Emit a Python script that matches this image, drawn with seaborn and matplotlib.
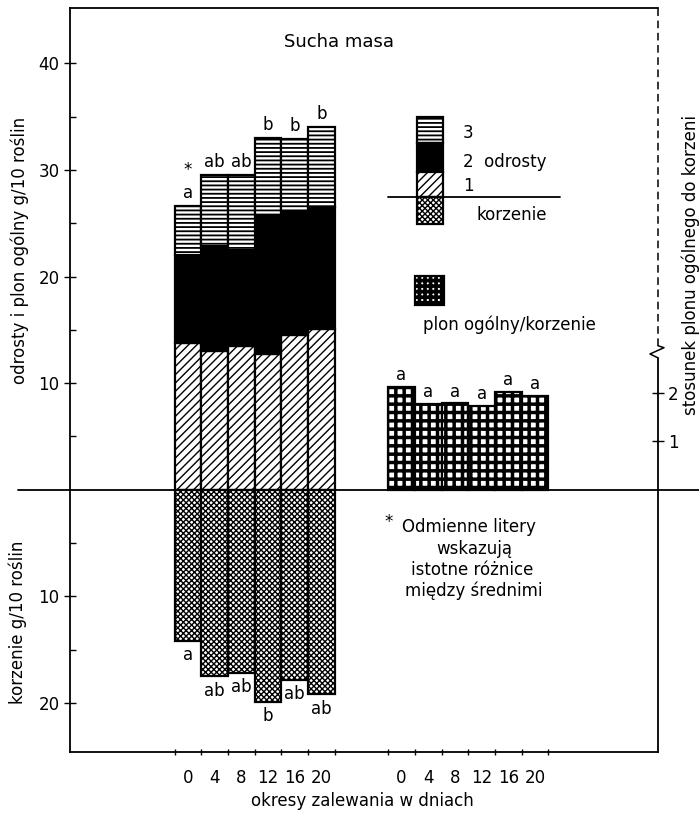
import numpy as np
import pandas as pd
import matplotlib
matplotlib.use('Agg')
import matplotlib.pyplot as plt
import matplotlib.transforms as mtransforms
from matplotlib.patches import Rectangle
import seaborn as sns

# --- Data ---
days = [0, 4, 8, 12, 16, 20]
cut1 = [13.8, 13.0, 13.5, 12.7, 14.5, 15.1]   # odrost 1
cut2 = [8.2, 9.9, 9.0, 13.1, 11.7, 11.4]      # odrost 2
cut3 = [4.6, 6.6, 7.0, 7.2, 6.7, 7.5]         # odrost 3
roots = [14.2, 17.5, 17.2, 19.9, 17.8, 19.2]  # korzenie
ratio = [2.12, 1.77, 1.78, 1.73, 2.02, 1.93]  # plon ogolny / korzenie
shoot_letters = ['a', 'ab', 'ab', 'b', 'b', 'b']
root_letters = ['a', 'ab', 'ab', 'b', 'ab', 'ab']
ratio_letters = ['a', 'a', 'a', 'a', 'a', 'a']

left_ticks = [10, 20, 30, 40]
root_ticks = [10, 20]
ratio_ticks = [1, 2]

# --- Table for seaborn ---
df = pd.DataFrame({'day': days, 'cut1': cut1, 'cut2': cut2, 'cut3': cut3,
                   'root': roots, 'ratio': ratio})
df['pos'] = np.arange(len(df))
df['pos2'] = df['pos'] + 8
df['neg_root'] = -df['root']
df['b2'] = df['cut1']
df['b3'] = df['cut1'] + df['cut2']
df['total'] = df['b3'] + df['cut3']

W, H = 699, 814
sns.set_style('ticks')
plt.rcParams['font.family'] = ['DejaVu Sans']
plt.rcParams['font.size'] = 12
for k in ['text.color', 'axes.labelcolor', 'xtick.color', 'ytick.color', 'axes.edgecolor']:
    plt.rcParams[k] = 'black'

fig = plt.figure(figsize=(W / 100, H / 100), dpi=100)
ax = fig.add_axes([70 / W, 1 - 752 / H, 588 / W, 744 / H])
ax2 = ax.twinx()


def px(x, y):
    return x / W, 1 - y / H


def set_hlw(patches, lw):
    for p in patches:
        if hasattr(p, 'set_hatch_linewidth'):
            p.set_hatch_linewidth(lw)


def bars(axis, x, y, bottom=None, hatch=None, face='white', hlw=1.0):
    plt.rcParams['hatch.linewidth'] = hlw
    n0 = len(axis.patches)
    sns.barplot(data=df, x=x, y=y, native_scale=True, width=1, color=face,
                saturation=1, edgecolor='black', linewidth=1.6, hatch=hatch,
                bottom=bottom, errorbar=None, ax=axis)
    set_hlw(axis.patches[n0:], hlw)


# shoots (stacked) and roots (downwards)
bars(ax, 'pos', 'cut1', hatch='////', hlw=1.0)
bars(ax, 'pos', 'cut2', bottom=df['b2'], face='black', hlw=1.0)
bars(ax, 'pos', 'cut3', bottom=df['b3'], hatch='----', hlw=1.3)
bars(ax, 'pos', 'neg_root', hatch='xxxxxx', hlw=1.0)
# ratio bars on the right scale
bars(ax2, 'pos2', 'ratio', hatch='++', hlw=2.5)

for i, r in df.iterrows():
    ax.text(r['pos'], r['total'] + 0.4, shoot_letters[i], ha='center', va='bottom', fontsize=12)
    ax.text(r['pos'], -r['root'] - 0.5, root_letters[i], ha='center', va='top', fontsize=12)
    ax2.text(r['pos2'], r['ratio'] + 0.06, ratio_letters[i], ha='center', va='bottom', fontsize=12)
ax.text(df['pos'][0], df['total'][0] + 2.6, '*', ha='center', va='bottom', fontsize=12)

# --- Axes ---
ax.set_xlim(-4.42, 17.61)
ax.set_ylim(-24.6, 45.2)
r_lo = 24.6 / 69.8 * 15.34
ax2.set_ylim(-r_lo, 15.34 - r_lo)
ax.set_xlabel('')
ax.set_ylabel('')
ax2.set_xlabel('')
ax2.set_ylabel('')

ax.set_yticks([-t for t in root_ticks] + left_ticks)
ax.set_yticklabels([str(t) for t in root_ticks] + [str(t) for t in left_ticks])
ax.set_yticks([-15, -5, 5, 15, 25, 35], minor=True)
ax.tick_params(axis='y', which='major', direction='inout', length=8, width=1, labelsize=12)
ax.tick_params(axis='y', which='minor', direction='in', length=4, width=1)

ax.set_xticks(list(df['pos']) + list(df['pos2']))
ax.set_xticklabels([str(d) for d in days] * 2)
ax.set_xticks(list(np.arange(-0.5, 6, 1)) + list(np.arange(7.5, 14, 1)), minor=True)
ax.tick_params(axis='x', which='major', length=0, pad=12, labelsize=12)
ax.tick_params(axis='x', which='minor', direction='inout', length=5, width=1)

ax2.set_yticks(ratio_ticks)
ax2.set_yticklabels([str(t) for t in ratio_ticks])
ax2.tick_params(axis='y', direction='inout', length=8, width=1, labelsize=12, pad=3)

for s in ['left', 'top', 'bottom']:
    ax.spines[s].set_linewidth(1.3)
ax.spines['right'].set_visible(False)
for s in ax2.spines.values():
    s.set_visible(False)

# zero line running across the whole frame
tz = mtransforms.blended_transform_factory(ax.transAxes, ax.transData)
ax.plot([-0.088, 1.07], [0, 0], transform=tz, clip_on=False, color='black', lw=1.3)

# right axis: solid below the break, dashed above
tr = mtransforms.blended_transform_factory(ax2.transAxes, ax2.transData)
d = 1 / 588
ax2.plot([1, 1], [-r_lo, 2.72], transform=tr, clip_on=False, color='black', lw=1.3)
ax2.plot([1, 1 - 8 * d, 1 + 6 * d, 1], [2.72, 2.80, 2.93, 2.97], transform=tr,
         clip_on=False, color='black', lw=1.1)
ax2.plot([1, 1], [2.97, 15.34 - r_lo], transform=tr, clip_on=False, color='black',
         lw=1.1, ls=(0, (5, 3)))

# --- Legend drawn as a small stacked bar ---
def swatch(x0, y0, x1, y1, face='white', hatch=None, hlw=1.0):
    plt.rcParams['hatch.linewidth'] = hlw
    (fx0, fy0), (fx1, fy1) = px(x0, y1), px(x1, y0)
    rect = Rectangle((fx0, fy0), fx1 - fx0, fy1 - fy0, transform=fig.transFigure,
                     facecolor=face, edgecolor='black', hatch=hatch, lw=1.6)
    fig.add_artist(rect)
    set_hlw([rect], hlw)


swatch(417, 117, 443, 143, hatch='----', hlw=1.3)
swatch(417, 143, 443, 172, face='black')
swatch(417, 172, 443, 197, hatch='////', hlw=1.0)
swatch(417, 197, 443, 224, hatch='xxxxxx', hlw=1.0)
fig.add_artist(plt.Line2D([388 / W, 560 / W], [1 - 197 / H] * 2, transform=fig.transFigure,
                          color='black', lw=1.3))
fig.text(*px(463, 133), '3', ha='left', va='center', fontsize=12)
fig.text(*px(463, 162), '2  odrosty', ha='left', va='center', fontsize=12)
fig.text(*px(463, 186), '1', ha='left', va='center', fontsize=12)
fig.text(*px(477, 215), 'korzenie', ha='left', va='center', fontsize=12)

swatch(415, 276, 444, 305, hatch='+++', hlw=2.6)
fig.text(*px(509, 325), 'plon ogólny/korzenie', ha='center', va='center', fontsize=12)

# --- Texts ---
fig.text(*px(339, 42), 'Sucha masa', ha='center', va='center', fontsize=13)
fig.text(*px(20, 250), 'odrosty i plon ogólny g/10 roślin', rotation=90,
         ha='center', va='center', fontsize=12)
fig.text(*px(18, 622), 'korzenie g/10 roślin', rotation=90,
         ha='center', va='center', fontsize=12)
fig.text(*px(691, 265), 'stosunek plonu ogólnego do korzeni', rotation=90,
         ha='center', va='center', fontsize=12)
fig.text(*px(362, 801), 'okresy zalewania w dniach', ha='center', va='center', fontsize=12)

fig.text(*px(389, 522), '*', ha='center', va='center', fontsize=12)
fig.text(*px(469, 527), 'Odmienne litery', ha='center', va='center', fontsize=12)
fig.text(*px(474, 549), 'wskazują', ha='center', va='center', fontsize=12)
fig.text(*px(472, 570), 'istotne różnice', ha='center', va='center', fontsize=12)
fig.text(*px(474, 591), 'między średnimi', ha='center', va='center', fontsize=12)

fig.savefig('out.png', dpi=100)
